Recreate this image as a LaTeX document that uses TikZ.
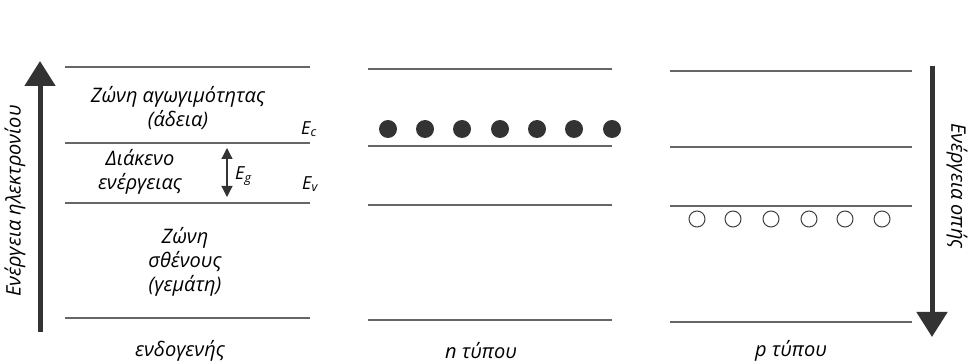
\documentclass[tikz,border=0pt]{standalone}
\usepackage{fontspec}
\setmainfont{Open Sans}
\usetikzlibrary{arrows.meta, positioning}

\begin{document}
\begin{tikzpicture}[
    x=1pt, y=-1pt,
    band/.style={draw=black!60, line width=1.1pt},
    label/.style={font=\fontsize{20}{24}\selectfont\itshape, align=center, inner sep=0pt},
    level/.style={font=\fontsize{18}{20}\selectfont\itshape, inner sep=0pt},
    electron/.style={circle, fill=black!80, minimum size=18pt, inner sep=0pt},
    hole/.style={circle, draw=black!75, line width=1pt, minimum size=16pt, inner sep=0pt},
    axis/.style={draw=black!80, line width=5pt, -{Triangle[width=30pt,length=25pt]}},
    gaparrow/.style={draw=black!80, line width=1.2pt, {Triangle[width=11pt,length=11pt]}-{Triangle[width=11pt,length=11pt]}}
]
\useasboundingbox (0,0) rectangle (972,363);

% =================== INTRINSIC ===================
\draw[band] (65,67) -- (310,67);
\draw[band] (65,143) -- (310,143);
\draw[band] (65,203) -- (310,203);
\draw[band] (65,318) -- (310,318);

\node[label] (cond) at (178,108) {Ζώνη αγωγιμότητας\\(άδεια)};
\node[label] (gap) at (140,172) {Διάκενο\\ενέργειας};
\node[label] (val) at (185,262) {Ζώνη\\σθένους\\(γεμάτη)};

\node[level] (Ec) at (309,129) {E\textsubscript{c}};
\node[level] (Ev) at (310,184) {E\textsubscript{v}};

\coordinate (gtop) at (227,148);
\coordinate (gbot) at (227,197);
\draw[gaparrow] (gtop) -- (gbot);
\node[level, right=8pt of gtop, yshift=-28pt] (Eg) {E\textsubscript{g}};

\node[label] (intr) at (180,351) {ενδογενής};

% electron energy axis
\coordinate (ebot) at (40,332);
\coordinate (etop) at (40,61);
\draw[axis] (ebot) -- (etop);
\node[label, rotate=90] (eaxis) at (15,201) {Ενέργεια ηλεκτρονίου};

% =================== N TYPE ===================
\draw[band] (368,69) -- (612,69);
\draw[band] (368,146) -- (612,146);
\draw[band] (368,205) -- (612,205);
\draw[band] (368,320) -- (612,320);

\foreach \i/\x in {1/388,2/425,3/462,4/500,5/537,6/574,7/612}
    \node[electron] (e\i) at (\x,129) {};

\node[label] (ntype) at (481,351) {n τύπου};

% =================== P TYPE ===================
\draw[band] (670,71) -- (912,71);
\draw[band] (670,147) -- (912,147);
\draw[band] (670,206) -- (912,206);
\draw[band] (670,322) -- (912,322);

\foreach \i/\x in {1/697,2/733,3/771,4/809,5/845,6/882}
    \node[hole] (h\i) at (\x,219) {};

\node[label] (ptype) at (791,351) {p τύπου};

% hole energy axis
\coordinate (htop) at (932,66);
\coordinate (hbot) at (932,337);
\draw[axis] (htop) -- (hbot);
\node[label, rotate=-90] (haxis) at (957,186) {Ενέργεια οπής};

\end{tikzpicture}
\end{document}
